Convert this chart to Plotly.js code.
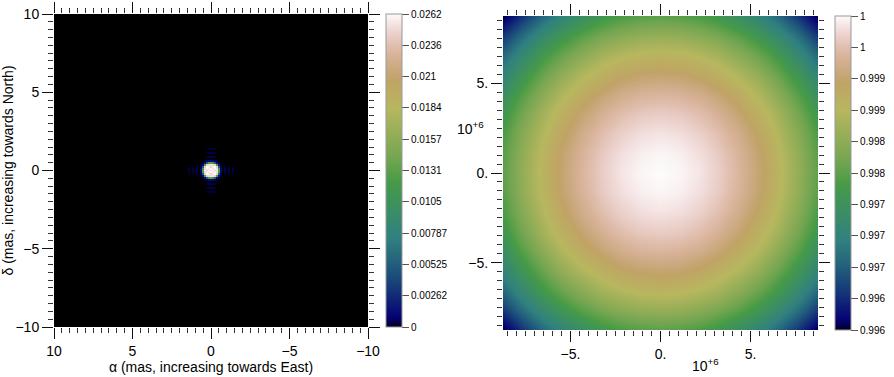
<!DOCTYPE html>
<html>
<head>
<meta charset="utf-8">
<script src="https://cdn.plot.ly/plotly-3.0.1.min.js"></script>
<style>html,body{margin:0;padding:0;background:#fff;}#plot{width:894px;height:377px;}</style>
</head>
<body>
<div id="plot"></div>
<script>
// ---------- DATA ----------
// Left panel: intensity image (central 23x23 pixel patch, rest of the field is empty = 0)
const fieldPixels = 159;           // pixels across the ±10 mas field
const psfPatch = [
 [0,0,0,0,0,0,0,0,0,0.0001,0.0003,0.0003,0.0003,0.0001,0,0,0,0,0,0,0,0,0],
 [0,0,0,0,0,0,0,0,0,0,0,0,0,0,0,0,0,0,0,0,0,0,0],
 [0,0,0,0,0,0,0,0,0,0.0001,0.0003,0.0004,0.0003,0.0001,0,0,0,0,0,0,0,0,0],
 [0,0,0,0,0,0,0,0,0,0,0,0,0,0,0,0,0,0,0,0,0,0,0],
 [0,0,0,0,0,0,0,0,0,0.0002,0.0004,0.0005,0.0004,0.0002,0,0,0,0,0,0,0,0,0],
 [0,0,0,0,0,0,0,0,0,0,0,0,0,0,0,0,0,0,0,0,0,0,0],
 [0,0,0,0,0,0,0,0,0.0002,0.0005,0.0011,0.0012,0.0011,0.0005,0.0002,0,0,0,0,0,0,0,0],
 [0,0,0,0,0,0,0,0.0003,0.0012,0.0050,0.0115,0.0130,0.0115,0.0050,0.0012,0.0003,0,0,0,0,0,0,0],
 [0,0,0,0,0,0,0.0002,0.0012,0.0125,0.0245,0.0250,0.0255,0.0250,0.0245,0.0125,0.0012,0.0002,0,0,0,0,0,0],
 [0.0001,0,0.0001,0,0.0002,0,0.0005,0.0050,0.0245,0.0262,0.0258,0.0245,0.0258,0.0262,0.0245,0.0050,0.0005,0,0.0002,0,0.0001,0,0.0001],
 [0.0003,0,0.0003,0,0.0004,0,0.0011,0.0115,0.0250,0.0258,0.0255,0.0262,0.0255,0.0258,0.0250,0.0115,0.0011,0,0.0004,0,0.0003,0,0.0003],
 [0.0003,0,0.0004,0,0.0005,0,0.0012,0.0130,0.0255,0.0245,0.0262,0.0248,0.0262,0.0245,0.0255,0.0130,0.0012,0,0.0005,0,0.0004,0,0.0003],
 [0.0003,0,0.0003,0,0.0004,0,0.0011,0.0115,0.0250,0.0258,0.0255,0.0262,0.0255,0.0258,0.0250,0.0115,0.0011,0,0.0004,0,0.0003,0,0.0003],
 [0.0001,0,0.0001,0,0.0002,0,0.0005,0.0050,0.0245,0.0262,0.0258,0.0245,0.0258,0.0262,0.0245,0.0050,0.0005,0,0.0002,0,0.0001,0,0.0001],
 [0,0,0,0,0,0,0.0002,0.0012,0.0125,0.0245,0.0250,0.0255,0.0250,0.0245,0.0125,0.0012,0.0002,0,0,0,0,0,0],
 [0,0,0,0,0,0,0,0.0003,0.0012,0.0050,0.0115,0.0130,0.0115,0.0050,0.0012,0.0003,0,0,0,0,0,0,0],
 [0,0,0,0,0,0,0,0,0.0002,0.0005,0.0011,0.0012,0.0011,0.0005,0.0002,0,0,0,0,0,0,0,0],
 [0,0,0,0,0,0,0,0,0,0,0,0,0,0,0,0,0,0,0,0,0,0,0],
 [0,0,0,0,0,0,0,0,0,0.0002,0.0004,0.0005,0.0004,0.0002,0,0,0,0,0,0,0,0,0],
 [0,0,0,0,0,0,0,0,0,0,0,0,0,0,0,0,0,0,0,0,0,0,0],
 [0,0,0,0,0,0,0,0,0,0.0001,0.0003,0.0004,0.0003,0.0001,0,0,0,0,0,0,0,0,0],
 [0,0,0,0,0,0,0,0,0,0,0,0,0,0,0,0,0,0,0,0,0,0,0],
 [0,0,0,0,0,0,0,0,0,0.0001,0.0003,0.0003,0.0003,0.0001,0,0,0,0,0,0,0,0,0]
];
const leftMax = 0.02624;
const leftCbVals = [0,0.002624,0.005248,0.007872,0.010496,0.01312,0.015744,0.018368,0.020992,0.023616,0.02624];
const leftCbText = ['0','0.00262','0.00525','0.00787','0.0105','0.0131','0.0157','0.0184','0.021','0.0236','0.0262'];
const leftTicks = [-10,-5,0,5,10];
const leftTickText = ['\u221210','\u22125','0','5','10'];

// Right panel: visibility amplitude on a 17x17 (u,v) grid, ±8.75e6
const visGrid = [
 [0.99575,0.99625,0.99668,0.99705,0.99734,0.99758,0.99774,0.99784,0.99788,0.99784,0.99774,0.99758,0.99734,0.99705,0.99668,0.99625,0.99575],
 [0.99625,0.99675,0.99718,0.99754,0.99784,0.99807,0.99824,0.99834,0.99837,0.99834,0.99824,0.99807,0.99784,0.99754,0.99718,0.99675,0.99625],
 [0.99668,0.99718,0.99761,0.99797,0.99827,0.99851,0.99867,0.99877,0.99880,0.99877,0.99867,0.99851,0.99827,0.99797,0.99761,0.99718,0.99668],
 [0.99705,0.99754,0.99797,0.99834,0.99864,0.99887,0.99904,0.99914,0.99917,0.99914,0.99904,0.99887,0.99864,0.99834,0.99797,0.99754,0.99705],
 [0.99734,0.99784,0.99827,0.99864,0.99894,0.99917,0.99934,0.99944,0.99947,0.99944,0.99934,0.99917,0.99894,0.99864,0.99827,0.99784,0.99734],
 [0.99758,0.99807,0.99851,0.99887,0.99917,0.99940,0.99957,0.99967,0.99970,0.99967,0.99957,0.99940,0.99917,0.99887,0.99851,0.99807,0.99758],
 [0.99774,0.99824,0.99867,0.99904,0.99934,0.99957,0.99973,0.99983,0.99987,0.99983,0.99973,0.99957,0.99934,0.99904,0.99867,0.99824,0.99774],
 [0.99784,0.99834,0.99877,0.99914,0.99944,0.99967,0.99983,0.99993,0.99997,0.99993,0.99983,0.99967,0.99944,0.99914,0.99877,0.99834,0.99784],
 [0.99788,0.99837,0.99880,0.99917,0.99947,0.99970,0.99987,0.99997,1.00000,0.99997,0.99987,0.99970,0.99947,0.99917,0.99880,0.99837,0.99788],
 [0.99784,0.99834,0.99877,0.99914,0.99944,0.99967,0.99983,0.99993,0.99997,0.99993,0.99983,0.99967,0.99944,0.99914,0.99877,0.99834,0.99784],
 [0.99774,0.99824,0.99867,0.99904,0.99934,0.99957,0.99973,0.99983,0.99987,0.99983,0.99973,0.99957,0.99934,0.99904,0.99867,0.99824,0.99774],
 [0.99758,0.99807,0.99851,0.99887,0.99917,0.99940,0.99957,0.99967,0.99970,0.99967,0.99957,0.99940,0.99917,0.99887,0.99851,0.99807,0.99758],
 [0.99734,0.99784,0.99827,0.99864,0.99894,0.99917,0.99934,0.99944,0.99947,0.99944,0.99934,0.99917,0.99894,0.99864,0.99827,0.99784,0.99734],
 [0.99705,0.99754,0.99797,0.99834,0.99864,0.99887,0.99904,0.99914,0.99917,0.99914,0.99904,0.99887,0.99864,0.99834,0.99797,0.99754,0.99705],
 [0.99668,0.99718,0.99761,0.99797,0.99827,0.99851,0.99867,0.99877,0.99880,0.99877,0.99867,0.99851,0.99827,0.99797,0.99761,0.99718,0.99668],
 [0.99625,0.99675,0.99718,0.99754,0.99784,0.99807,0.99824,0.99834,0.99837,0.99834,0.99824,0.99807,0.99784,0.99754,0.99718,0.99675,0.99625],
 [0.99575,0.99625,0.99668,0.99705,0.99734,0.99758,0.99774,0.99784,0.99788,0.99784,0.99774,0.99758,0.99734,0.99705,0.99668,0.99625,0.99575]
];
const uvHalf = 8.75e6;
const visMin = 0.99575, visMax = 1.0;
const rightCbVals = [0.99575,0.996175,0.9966,0.997025,0.99745,0.997875,0.9983,0.998725,0.99915,0.999575,1.0];
const rightCbText = ['0.996','0.996','0.997','0.997','0.997','0.998','0.998','0.999','0.999','1','1'];
const rightTicks = [-5e6,0,5e6];
const rightTickText = ['\u22125.','0.','5.'];

// ---------- colormap (gist_earth segment data) ----------
const gistEarth = {
 red:[[0,0,0],[0.2824,0.1882,0.1882],[0.4588,0.2714,0.2714],[0.5490,0.4719,0.4719],[0.6980,0.7176,0.7176],[0.7882,0.7553,0.7553],[1,0.9922,0.9922]],
 green:[[0,0,0],[0.0275,0,0],[0.1098,0.1893,0.1893],[0.1647,0.3035,0.3035],[0.2078,0.3841,0.3841],[0.2824,0.5020,0.5020],[0.5216,0.6397,0.6397],[0.6980,0.7171,0.7171],[0.7882,0.6392,0.6392],[0.7922,0.6413,0.6413],[0.8000,0.6447,0.6447],[0.8078,0.6481,0.6481],[0.8157,0.6549,0.6549],[0.8667,0.6991,0.6991],[0.8745,0.7103,0.7103],[0.8824,0.7216,0.7216],[0.8902,0.7323,0.7323],[0.8980,0.7430,0.7430],[0.9412,0.8275,0.8275],[0.9569,0.8635,0.8635],[0.9647,0.8816,0.8816],[0.9961,0.9733,0.9733],[1,0.9843,0.9843]],
 blue:[[0,0,0],[0.0039,0.1684,0.1684],[0.0078,0.2212,0.2212],[0.0275,0.4329,0.4329],[0.0314,0.4549,0.4549],[0.2824,0.5004,0.5004],[0.4667,0.2748,0.2748],[0.5451,0.3205,0.3205],[0.7843,0.3961,0.3961],[0.8941,0.6651,0.6651],[1,0.9843,0.9843]]
};
function segInterp(seg, x){
  for(let i=1;i<seg.length;i++){
    if(x<=seg[i][0]){
      const x0=seg[i-1][0], y0=seg[i-1][2], x1=seg[i][0], y1=seg[i][1];
      return x1===x0 ? y1 : y0+(y1-y0)*(x-x0)/(x1-x0);
    }
  }
  return seg[seg.length-1][2];
}
function buildScale(d){
  const s=new Set();
  ['red','green','blue'].forEach(c=>d[c].forEach(p=>s.add(p[0])));
  return [...s].sort((a,b)=>a-b).map(x=>[x,'rgb('+['red','green','blue'].map(c=>Math.round(255*segInterp(d[c],x))).join(',')+')']);
}
const cscale = buildScale(gistEarth);

// ---------- full left image: empty field with the patch at its centre ----------
const z1 = [];
const off = (fieldPixels - psfPatch.length)/2;
for(let r=0;r<fieldPixels;r++){
  const row = new Array(fieldPixels).fill(0);
  const pr = r - off;
  if(pr>=0 && pr<psfPatch.length){
    for(let c=0;c<psfPatch[pr].length;c++) row[off+c] = psfPatch[pr][c];
  }
  z1.push(row);
}
const pix = 20/fieldPixels;

const W=894, H=377;
const fontFam = 'Liberation Sans, Arial, Helvetica, sans-serif';
const tickSize = 14, titleSize = 14, cbSize = 10;

const traces = [
 {
  type:'heatmap', z:z1, x0:-10+pix/2, dx:pix, y0:-10+pix/2, dy:pix,
  colorscale:cscale, zmin:0, zmax:leftMax, xaxis:'x', yaxis:'y', hoverinfo:'skip',
  colorbar:{x:386/W, xanchor:'left', xpad:0, ypad:0, y:1-14/H, yanchor:'top',
    len:313, lenmode:'pixels', thickness:16, thicknessmode:'pixels',
    tickmode:'array', tickvals:leftCbVals, ticktext:leftCbText,
    ticks:'outside', ticklen:7, tickcolor:'#555', tickwidth:1,
    tickfont:{size:cbSize, family:fontFam, color:'#000'},
    outlinewidth:1, outlinecolor:'#999'}
 },
 {
  type:'heatmap', z:visGrid, x0:-uvHalf, dx:2*uvHalf/16, y0:-uvHalf, dy:2*uvHalf/16,
  zsmooth:'best', colorscale:cscale, zmin:visMin, zmax:visMax, xaxis:'x2', yaxis:'y2', hoverinfo:'skip',
  colorbar:{x:835/W, xanchor:'left', xpad:0, ypad:0, y:1-16/H, yanchor:'top',
    len:314, lenmode:'pixels', thickness:16, thicknessmode:'pixels',
    tickmode:'array', tickvals:rightCbVals, ticktext:rightCbText,
    ticks:'outside', ticklen:7, tickcolor:'#555', tickwidth:1,
    tickfont:{size:cbSize, family:fontFam, color:'#000'},
    outlinewidth:1, outlinecolor:'#999'}
 }
];

function axisCommon(){
  return {ticks:'outside', ticklen:11, tickwidth:1, tickcolor:'#111', mirror:'ticks',
    showgrid:false, zeroline:false, showline:false,
    tickfont:{size:tickSize, family:fontFam, color:'#000'}};
}

const layout = {
  width:W, height:H, margin:{l:0,r:0,t:0,b:0},
  paper_bgcolor:'#fff', plot_bgcolor:'#fff', showlegend:false,
  font:{family:fontFam, size:12, color:'#000'},
  xaxis:Object.assign(axisCommon(), {domain:[54/W,368/W], range:[10,-10], anchor:'y',
    tickmode:'array', tickvals:leftTicks, ticktext:leftTickText,
    minor:{tickmode:'linear', tick0:0, dtick:0.5, ticks:'outside', ticklen:5, tickcolor:'#333', tickwidth:1},
    title:{text:'\u03b1 (mas, increasing towards East)', font:{size:titleSize, family:fontFam}, standoff:1}}),
  yaxis:Object.assign(axisCommon(), {domain:[1-327/H,1-14/H], range:[-10,10], anchor:'x',
    tickmode:'array', tickvals:leftTicks, ticktext:leftTickText,
    minor:{tickmode:'linear', tick0:0, dtick:0.5, ticks:'outside', ticklen:5, tickcolor:'#333', tickwidth:1},
    title:{text:'\u03b4 (mas, increasing towards North)', font:{size:titleSize, family:fontFam}, standoff:2}}),
  xaxis2:Object.assign(axisCommon(), {domain:[503/W,818/W], range:[-uvHalf,uvHalf], anchor:'y2',
    tickmode:'array', tickvals:rightTicks, ticktext:rightTickText,
    minor:{tickmode:'linear', tick0:0, dtick:5e5, ticks:'outside', ticklen:5, tickcolor:'#333', tickwidth:1}}),
  yaxis2:Object.assign(axisCommon(), {domain:[1-330/H,1-16/H], range:[-uvHalf,uvHalf], anchor:'x2',
    tickmode:'array', tickvals:rightTicks, ticktext:rightTickText,
    minor:{tickmode:'linear', tick0:0, dtick:5e5, ticks:'outside', ticklen:5, tickcolor:'#333', tickwidth:1}}),
  annotations:[
    {text:'10<sup>+6</sup>', xref:'paper', yref:'paper', x:705/W, y:1-365/H, xanchor:'center', yanchor:'middle', showarrow:false, font:{size:tickSize, family:fontFam}},
    {text:'10<sup>+6</sup>', xref:'paper', yref:'paper', x:470/W, y:1-128/H, xanchor:'center', yanchor:'middle', showarrow:false, font:{size:tickSize, family:fontFam}}
  ]
};

Plotly.newPlot('plot', traces, layout, {staticPlot:true, displayModeBar:false});
</script>
</body>
</html>
